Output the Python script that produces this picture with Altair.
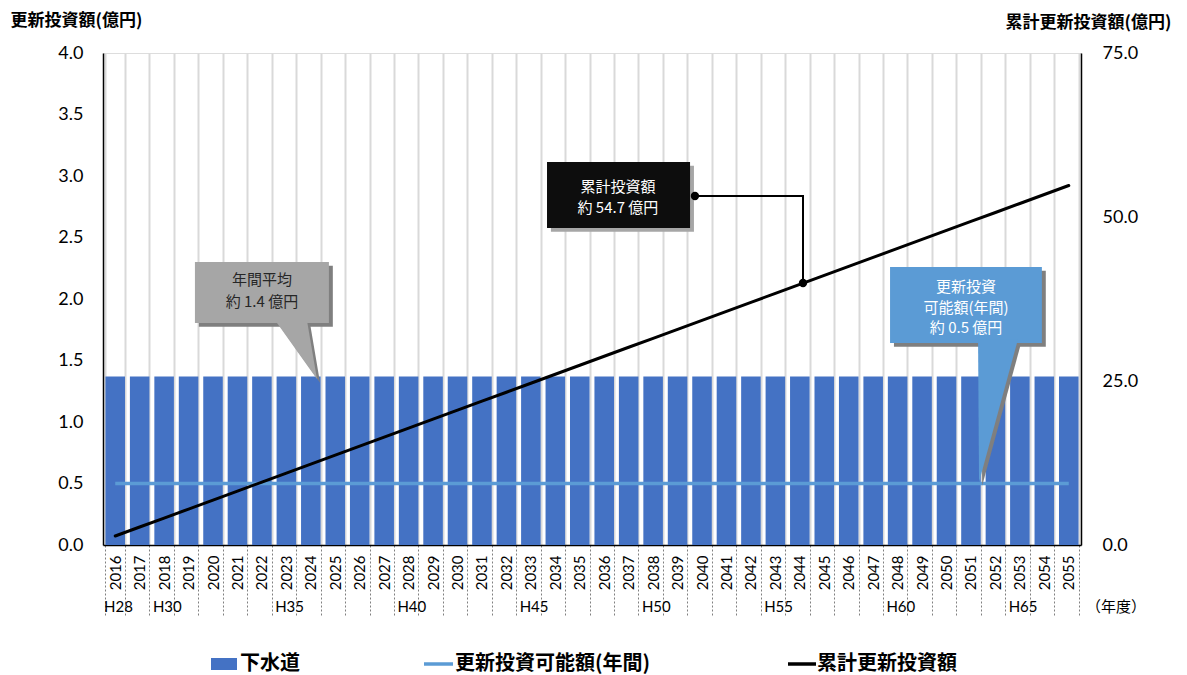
import altair as alt
import pandas as pd
import numpy as np

# ---------------- data ----------------
years = [str(y) for y in range(2016, 2056)]
sewer = [1.37, 1.37, 1.37, 1.37, 1.37, 1.37, 1.37, 1.37, 1.37, 1.37,
         1.37, 1.37, 1.37, 1.37, 1.37, 1.37, 1.37, 1.37, 1.37, 1.37,
         1.37, 1.37, 1.37, 1.37, 1.37, 1.37, 1.37, 1.37, 1.37, 1.37,
         1.37, 1.37, 1.37, 1.37, 1.37, 1.37, 1.37, 1.37, 1.37, 1.37]
possible = [0.5, 0.5, 0.5, 0.5, 0.5, 0.5, 0.5, 0.5, 0.5, 0.5,
            0.5, 0.5, 0.5, 0.5, 0.5, 0.5, 0.5, 0.5, 0.5, 0.5,
            0.5, 0.5, 0.5, 0.5, 0.5, 0.5, 0.5, 0.5, 0.5, 0.5,
            0.5, 0.5, 0.5, 0.5, 0.5, 0.5, 0.5, 0.5, 0.5, 0.5]
era_years = ["2016", "2018", "2023", "2028", "2033", "2038", "2043", "2048", "2053"]
era_labels = ["H28", "H30", "H35", "H40", "H45", "H50", "H55", "H60", "H65"]
left_ticks = [0, 0.5, 1.0, 1.5, 2.0, 2.5, 3.0, 3.5, 4.0]
right_ticks = [0, 25, 50, 75]

df = pd.DataFrame({"year": years, "sewer": sewer, "possible": possible})
df["cum"] = np.cumsum(sewer).round(3)
era_df = pd.DataFrame({"year": era_years, "label": era_labels})

# ---------------- styling ----------------
W, H = 978, 492
BLUE = "#4472C4"
LIGHT = "#5B9BD5"
CJK = "Noto Sans CJK JP"
NUM = "Lato"

xband = alt.Scale(type="band", domain=years, paddingInner=0.2, paddingOuter=0.1)
xpoint = alt.Scale(type="point", domain=years, padding=0.5)
xq = alt.Scale(domain=[2015.5, 2055.5], nice=False, zero=False)
yL = alt.Scale(domain=[0, 4], nice=False)
yR = alt.Scale(domain=[0, 75], nice=False)

bars = alt.Chart(df).mark_bar(color=BLUE).encode(
    x=alt.X("year:O", scale=xband, sort=years, axis=alt.Axis(
        title=None, labelAngle=270, labelAlign="right", labelBaseline="middle",
        labelFont=NUM, labelFontSize=15, labelColor="black", labelPadding=-62,
        tickBand="extent", tickSize=72, tickColor="#808080", tickDash=[2, 2], tickWidth=1,
        grid=True, gridColor="#D9D9D9", gridWidth=2,
        domainColor="black", domainWidth=1.5)),
    y=alt.Y("sewer:Q", scale=yL, axis=alt.Axis(
        title="更新投資額(億円)", titleAngle=0, titleAlign="left", titleBaseline="middle",
        titleX=-93, titleY=-33, titleFont=CJK, titleFontSize=17, titleFontWeight="bold",
        titleColor="black", values=left_ticks, format=".1f",
        labelFont=NUM, labelFontSize=18, labelColor="black", labelPadding=20,
        ticks=False, grid=False, domainColor="black", domainWidth=1.5)),
)

possible_line = alt.Chart(df).mark_line(color=LIGHT, strokeWidth=3.5).encode(
    x=alt.X("year:O", scale=xpoint, sort=years, axis=None),
    y=alt.Y("possible:Q", scale=yL, axis=None),
)

cum_line = alt.Chart(df).mark_line(color="black", strokeWidth=3, strokeCap="round").encode(
    x=alt.X("year:O", scale=xpoint, sort=years, axis=None),
    y=alt.Y("cum:Q", scale=yR, axis=alt.Axis(
        orient="right", title="累計更新投資額(億円)", titleAngle=0, titleAlign="left",
        titleBaseline="middle", titleX=-76, titleY=-31, titleFont=CJK, titleFontSize=17,
        titleFontWeight="bold", titleColor="black", values=right_ticks, format=".1f",
        labelFont=NUM, labelFontSize=18, labelColor="black", labelPadding=21,
        labelAlign="left", ticks=False, grid=False, domainColor="black", domainWidth=1.5)),
)

era_text = alt.Chart(era_df).transform_calculate(
    pos="toNumber(datum.year) - 0.5"
).mark_text(align="left", baseline="middle", font=NUM, fontSize=15, color="black", dx=1).encode(
    x=alt.X("pos:Q", scale=xq, axis=None),
    y=alt.value(H + 62),
    text="label:N",
)

nendo = alt.Chart(pd.DataFrame({"t": ["（年度）"]})).mark_text(
    align="left", baseline="middle", font=CJK, fontSize=15, color="black"
).encode(x=alt.value(W + 5), y=alt.value(H + 62), text="t:N")

# ---------------- annotations (data units: year / left axis) ----------------
SX, SY = 0.16, 0.03
boxes = [
    # x, x2, y, y2, fill, shadow
    (2019.26, 2024.74, 1.805, 2.30, "#A6A6A6", "#7F7F7F"),
    (2033.66, 2039.51, 2.577, 3.114, "#0D0D0D", "#A6A6A6"),
    (2047.69, 2053.90, 1.642, 2.26, LIGHT, "#7F7F7F"),
]
box_df = pd.DataFrame([{"x": b[0], "x2": b[1], "y": b[2], "y2": b[3], "fill": b[4]} for b in boxes])
shadow_df = pd.DataFrame([{"x": b[0] + SX, "x2": b[1] + SX, "y": b[2] - SY, "y2": b[3] - SY, "fill": b[5]} for b in boxes])

pointers = [
    ("g", [(2022.53, 1.83), (2023.84, 1.83), (2024.25, 1.35)], "#A6A6A6", "#7F7F7F"),
    ("b", [(2051.29, 1.67), (2052.92, 1.67), (2051.33, 0.512)], LIGHT, "#7F7F7F"),
]


def tri_rows(pid, pts, fill, dx=0.0, dy=0.0):
    p = sorted([(a + dx, b + dy) for a, b in pts])
    (x0, y0), (x1, y1), (x2, y2) = p
    ym = y0 + (y2 - y0) * (x1 - x0) / (x2 - x0)
    return [
        {"id": pid, "x": x0, "y": y0, "y2": y0, "fill": fill},
        {"id": pid, "x": x1, "y": y1, "y2": ym, "fill": fill},
        {"id": pid, "x": x2, "y": y2, "y2": y2, "fill": fill},
    ]


tri_df = pd.DataFrame(sum([tri_rows(p[0], p[1], p[2]) for p in pointers], []))
tri_sh_df = pd.DataFrame(sum([tri_rows(p[0] + "s", p[1], p[3], SX * 0.8, -SY) for p in pointers], []))


def rect_layer(d):
    return alt.Chart(d).mark_rect().encode(
        x=alt.X("x:Q", scale=xq, axis=None), x2="x2:Q",
        y=alt.Y("y:Q", scale=yL, axis=None), y2="y2:Q",
        color=alt.Color("fill:N", scale=None),
    )


def tri_layer(d):
    return alt.Chart(d).mark_area().encode(
        x=alt.X("x:Q", scale=xq, axis=None),
        y=alt.Y("y:Q", scale=yL, axis=None), y2="y2:Q",
        color=alt.Color("fill:N", scale=None), detail="id:N",
    )


conn_df = pd.DataFrame({"x": [2039.71, 2044.13, 2044.13], "y": [2.837, 2.837, 2.13], "o": [0, 1, 2]})
connector = alt.Chart(conn_df).mark_line(color="black", strokeWidth=2).encode(
    x=alt.X("x:Q", scale=xq, axis=None), y=alt.Y("y:Q", scale=yL, axis=None), order="o:Q")
dots = alt.Chart(conn_df.iloc[[0, 2]]).mark_circle(color="black", size=70, opacity=1).encode(
    x=alt.X("x:Q", scale=xq, axis=None), y=alt.Y("y:Q", scale=yL, axis=None))

texts_df = pd.DataFrame([
    {"t": "年間平均", "x": 2022.0, "y": 2.154, "c": "#262626"},
    {"t": "約 1.4 億円", "x": 2022.0, "y": 1.976, "c": "#262626"},
    {"t": "累計投資額", "x": 2036.56, "y": 2.911, "c": "white"},
    {"t": "約 54.7 億円", "x": 2036.56, "y": 2.740, "c": "white"},
    {"t": "更新投資", "x": 2050.80, "y": 2.098, "c": "white"},
    {"t": "可能額(年間)", "x": 2050.80, "y": 1.927, "c": "white"},
    {"t": "約 0.5 億円", "x": 2050.80, "y": 1.764, "c": "white"},
])
callout_text = alt.Chart(texts_df).mark_text(
    align="center", baseline="middle", font=CJK, fontSize=15).encode(
    x=alt.X("x:Q", scale=xq, axis=None), y=alt.Y("y:Q", scale=yL, axis=None),
    text="t:N", color=alt.Color("c:N", scale=None))

# ---------------- manual legend ----------------
one = pd.DataFrame({"a": [0]})
LY = 611
leg_sq = alt.Chart(one).mark_rect(color=BLUE).encode(
    x=alt.value(108), x2=alt.value(134), y=alt.value(LY - 6), y2=alt.value(LY + 6))
leg_l1 = alt.Chart(one).mark_rule(color=LIGHT, strokeWidth=3.5).encode(
    x=alt.value(321), x2=alt.value(350), y=alt.value(LY))
leg_l2 = alt.Chart(one).mark_rule(color="black", strokeWidth=3.5).encode(
    x=alt.value(685), x2=alt.value(713), y=alt.value(LY))


def leg_text(t, x):
    return alt.Chart(pd.DataFrame({"t": [t]})).mark_text(
        align="left", baseline="middle", font=CJK, fontSize=20, fontWeight="bold", color="black"
    ).encode(x=alt.value(x), y=alt.value(LY), text="t:N")


chart = alt.layer(
    bars, possible_line, cum_line, era_text, nendo,
    rect_layer(shadow_df), tri_layer(tri_sh_df), rect_layer(box_df), tri_layer(tri_df),
    connector, dots, callout_text,
    leg_sq, leg_l1, leg_l2,
    leg_text("下水道", 137), leg_text("更新投資可能額(年間)", 352), leg_text("累計更新投資額", 714),
).resolve_scale(x="independent", y="independent").properties(
    width=W, height=H,
    autosize=alt.AutoSizeParams(type="none"),
    padding={"left": 103, "top": 53, "right": 106, "bottom": 130},
).configure_view(stroke="black", strokeWidth=1).configure(background="white")

chart.save("out.html", embed_options={"renderer": "svg", "actions": False})
